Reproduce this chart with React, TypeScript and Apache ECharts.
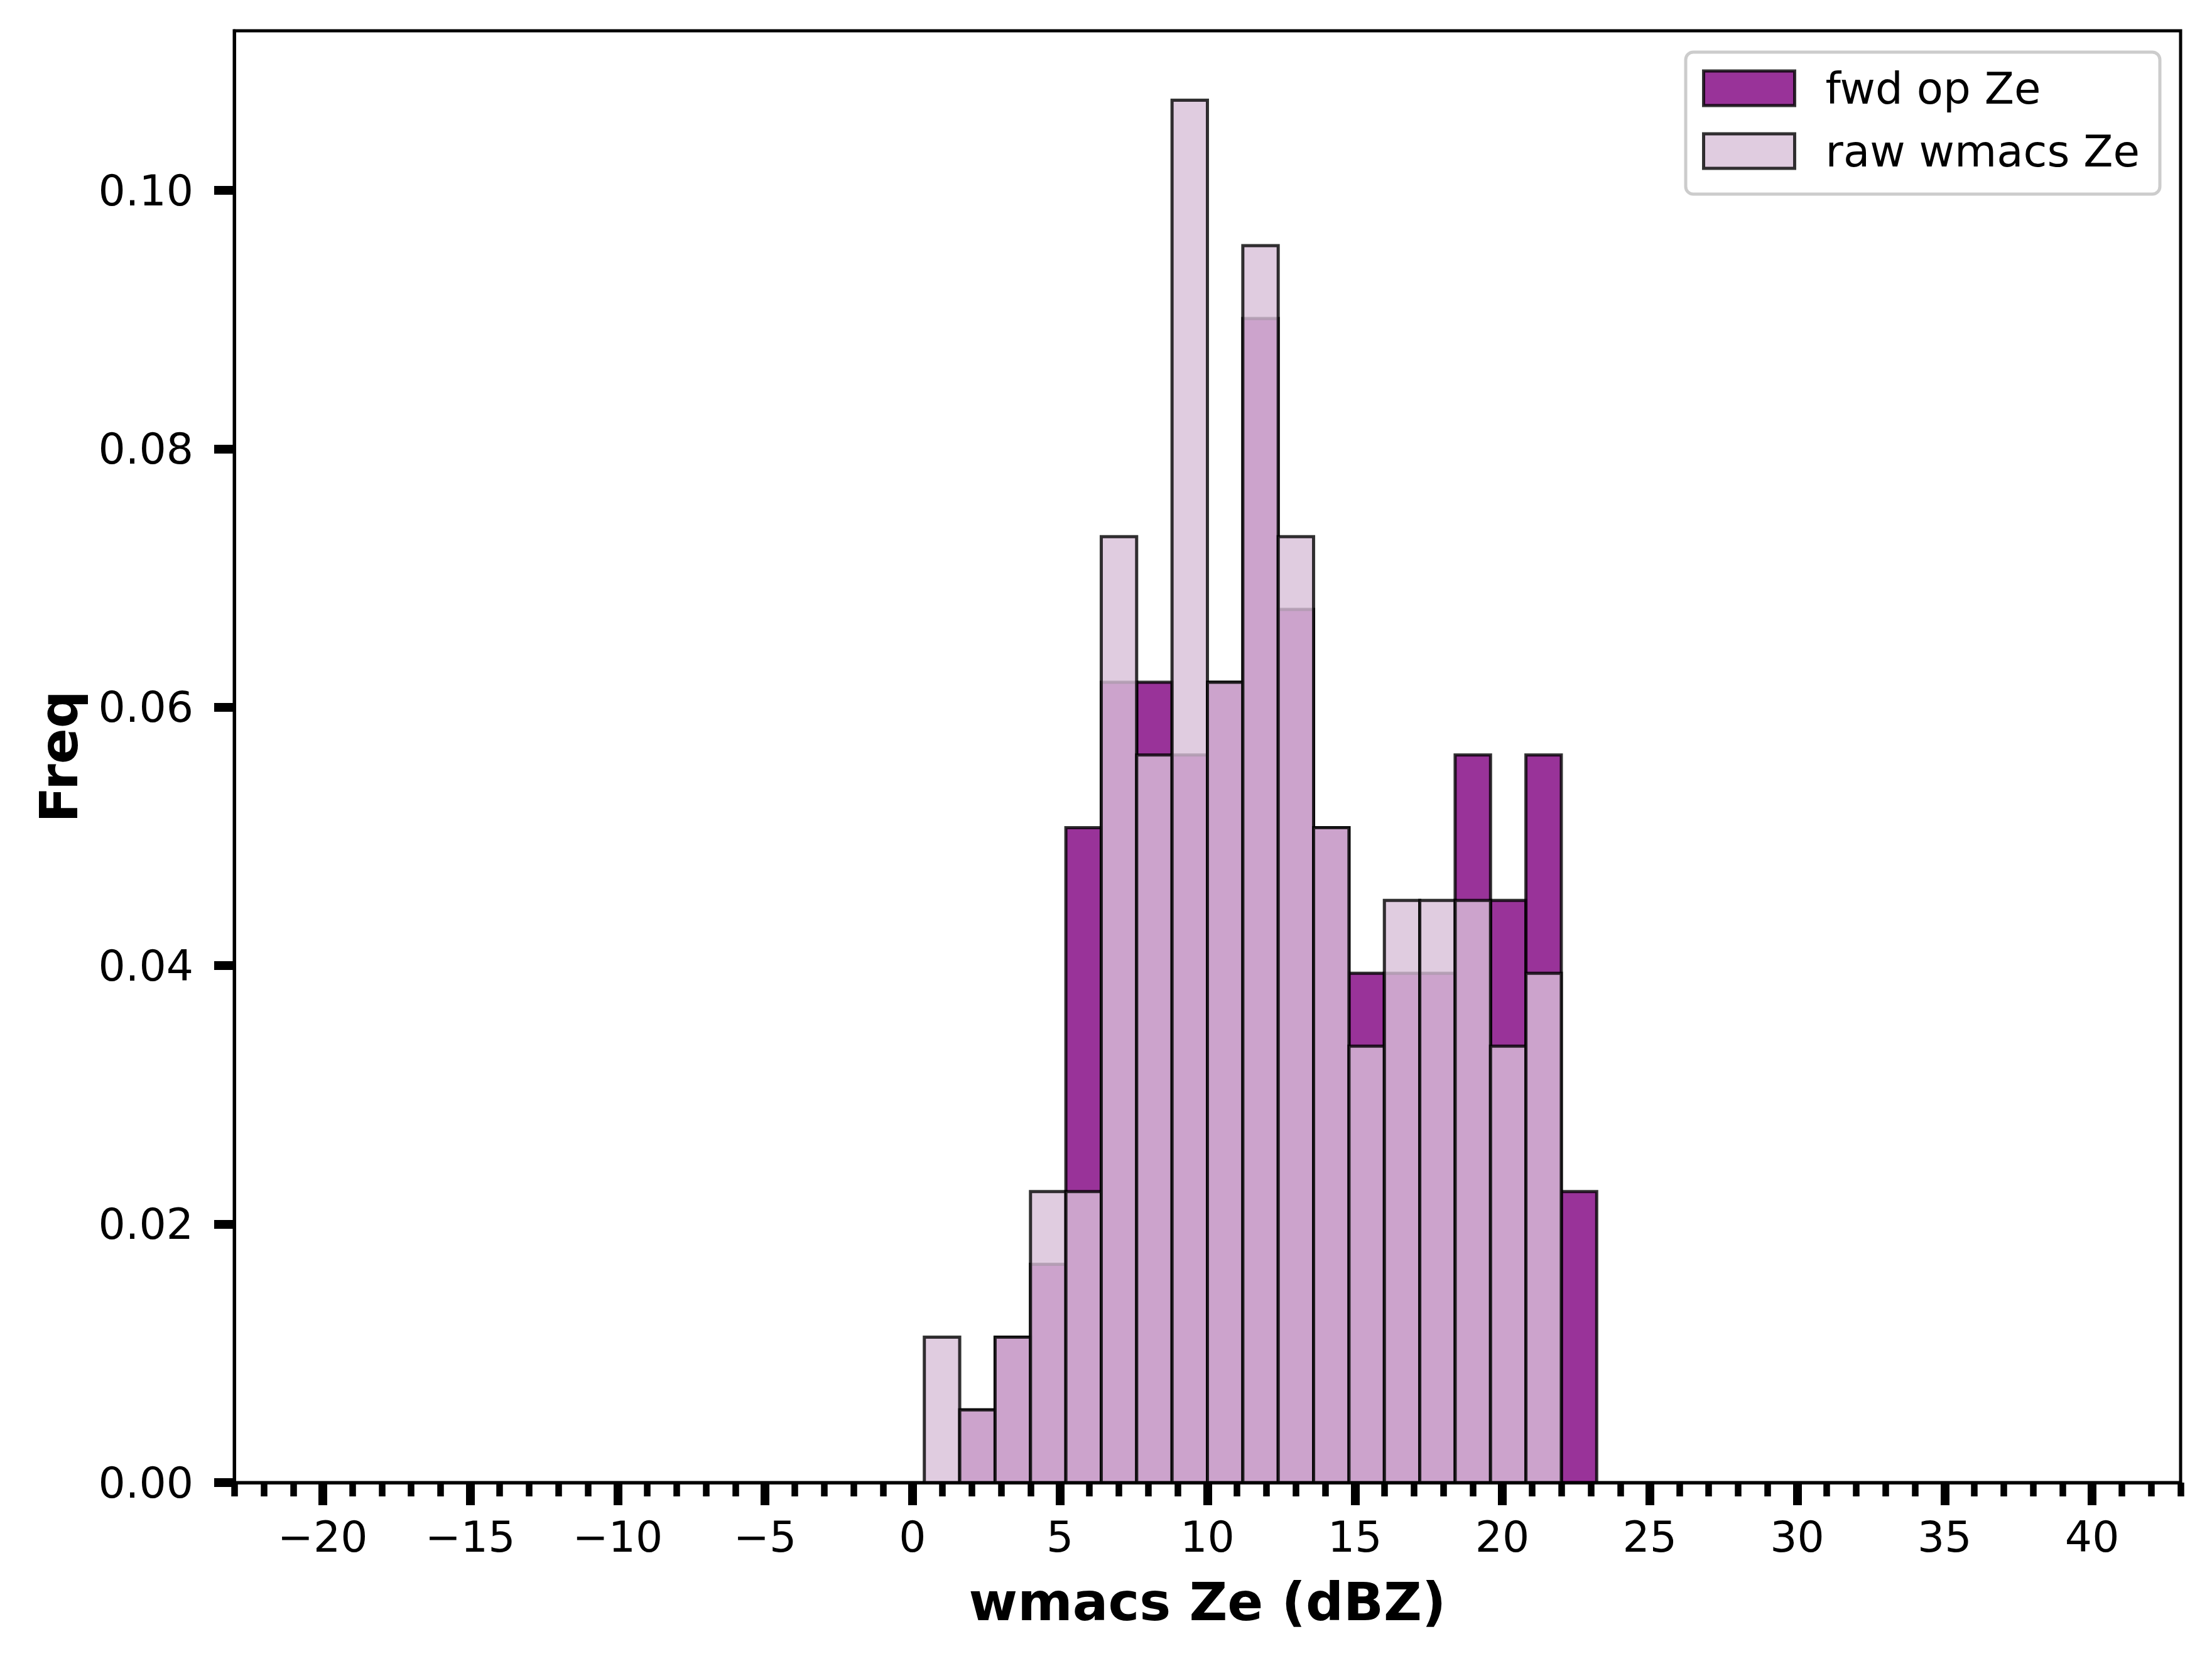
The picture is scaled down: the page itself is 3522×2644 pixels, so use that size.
import React, { useEffect, useRef } from "react";
import * as echarts from "echarts";

// Histogram bin edges (dBZ)
const binEdges = [0.4, 1.6, 2.8, 4.0, 5.2, 6.4, 7.6, 8.8, 10.0, 11.2, 12.4, 13.6, 14.8, 16.0, 17.2, 18.4, 19.6, 20.8, 22.0, 23.2];
// Frequency (density) values per bin
const fwdFreq = [0, 0.00563, 0.01126, 0.01689, 0.05068, 0.06194, 0.06194, 0.05631, 0.06194, 0.09009, 0.06757, 0.05068, 0.03941, 0.03941, 0.03941, 0.05631, 0.04505, 0.05631, 0.02252];
const rawFreq = [0.01126, 0.00563, 0.01126, 0.02252, 0.02252, 0.0732, 0.05631, 0.10698, 0.06194, 0.09572, 0.0732, 0.05068, 0.03378, 0.04505, 0.04505, 0.04505, 0.03378, 0.03941, 0];

const seriesNames = ["fwd op Ze", "raw wmacs Ze"];
const xMajorTicks = [-20, -15, -10, -5, 0, 5, 10, 15, 20, 25, 30, 35, 40];
const xMinorTicks = [-23, -22, -21, -20, -19, -18, -17, -16, -15, -14, -13, -12, -11, -10, -9, -8, -7, -6, -5, -4, -3, -2, -1, 0, 1, 2, 3, 4, 5, 6, 7, 8, 9, 10, 11, 12, 13, 14, 15, 16, 17, 18, 19, 20, 21, 22, 23, 24, 25, 26, 27, 28, 29, 30, 31, 32, 33, 34, 35, 36, 37, 38, 39, 40, 41, 42, 43];
const yTicks = [0, 0.02, 0.04, 0.06, 0.08, 0.1];
const xRange = [-23, 43];
const yRange = [0, 0.11235];

const FONT = "DejaVu Sans";
const FWD_FILL = "rgba(128,0,128,0.8)";
const RAW_FILL = "rgba(216,191,216,0.8)";
const EDGE = "rgba(0,0,0,0.8)";

function toBars(values: number[]) {
  const out: number[][] = [];
  values.forEach((v, i) => {
    if (v > 0) out.push([binEdges[i], binEdges[i + 1], v]);
  });
  return out;
}

function makeRender(fill: string) {
  return (params: any, api: any) => {
    const x0 = api.value(0);
    const x1 = api.value(1);
    const y = api.value(2);
    const p0 = api.coord([x0, y]);
    const p1 = api.coord([x1, 0]);
    return {
      type: "rect",
      shape: { x: p0[0], y: p0[1], width: p1[0] - p0[0], height: p1[1] - p0[1] },
      style: { fill, stroke: EDGE, lineWidth: 5 },
    };
  };
}

const minusFmt = (v: number) => (v < 0 ? "\u2212" + Math.abs(v) : String(v));

export default function App() {
  const ref = useRef<HTMLDivElement>(null);
  useEffect(() => {
    document.body.style.margin = "0";
    if (!ref.current) return;
    const chart = echarts.init(ref.current, undefined, { renderer: "svg" });
    chart.setOption({
      animation: false,
      backgroundColor: "#ffffff",
      grid: {
        left: 373,
        right: 50,
        top: 49,
        bottom: 284,
        show: true,
        borderColor: "#000",
        borderWidth: 5,
        backgroundColor: "transparent",
      },
      legend: {
        orient: "vertical",
        right: 83,
        top: 83,
        padding: [23, 32, 34, 26],
        itemWidth: 145,
        itemHeight: 55,
        itemGap: 31,
        backgroundColor: "rgba(255,255,255,0.8)",
        borderColor: "#cccccc",
        borderWidth: 5,
        borderRadius: 12,
        selectedMode: false,
        textStyle: {
          fontFamily: FONT,
          fontSize: 69,
          color: "#000",
          lineHeight: 55,
          padding: [0, 0, 0, 44],
        },
        data: [
          { name: seriesNames[0], icon: "rect", itemStyle: { color: FWD_FILL, borderColor: EDGE, borderWidth: 5 } },
          { name: seriesNames[1], icon: "rect", itemStyle: { color: RAW_FILL, borderColor: EDGE, borderWidth: 5 } },
        ],
      },
      xAxis: [
        {
          type: "value",
          min: xRange[0],
          max: xRange[1],
          z: 5,
          name: "wmacs Ze (dBZ)",
          nameLocation: "middle",
          nameGap: 148,
          nameTextStyle: { fontFamily: FONT, fontSize: 84, fontWeight: "bold", color: "#000", lineHeight: 84 },
          axisLine: { show: true, onZero: false, lineStyle: { color: "#000", width: 5 } },
          splitLine: { show: false },
          axisTick: {
            show: true,
            customValues: xMajorTicks,
            length: 36,
            lineStyle: { color: "#000", width: 14 },
          },
          axisLabel: {
            customValues: xMajorTicks,
            formatter: minusFmt,
            margin: 50,
            fontFamily: FONT,
            fontSize: 68,
            lineHeight: 72,
            color: "#000",
          },
        },
        {
          type: "value",
          min: xRange[0],
          max: xRange[1],
          position: "bottom",
          z: 5,
          axisLine: { show: false, onZero: false },
          splitLine: { show: false },
          axisLabel: { show: false },
          axisTick: {
            show: true,
            customValues: xMinorTicks,
            length: 22,
            lineStyle: { color: "#000", width: 10.5 },
          },
        },
      ],
      yAxis: {
        type: "value",
        min: yRange[0],
        max: yRange[1],
        z: 5,
        name: "Freq",
        nameLocation: "middle",
        nameGap: 237,
        nameTextStyle: { fontFamily: FONT, fontSize: 84, fontWeight: "bold", color: "#000", lineHeight: 84 },
        axisLine: { show: true, onZero: false, lineStyle: { color: "#000", width: 5 } },
        splitLine: { show: false },
        axisTick: {
          show: true,
          customValues: yTicks,
          length: 32,
          lineStyle: { color: "#000", width: 14 },
        },
        axisLabel: {
          customValues: yTicks,
          formatter: (v: number) => v.toFixed(2),
          margin: 65,
          fontFamily: FONT,
          fontSize: 68,
          color: "#000",
        },
      },
      series: [
        {
          name: seriesNames[0],
          type: "custom",
          xAxisIndex: 0,
          itemStyle: { color: FWD_FILL, borderColor: EDGE, borderWidth: 5 },
          encode: { x: [0, 1], y: 2 },
          renderItem: makeRender(FWD_FILL),
          data: toBars(fwdFreq),
        },
        {
          name: seriesNames[1],
          type: "custom",
          xAxisIndex: 0,
          itemStyle: { color: RAW_FILL, borderColor: EDGE, borderWidth: 5 },
          encode: { x: [0, 1], y: 2 },
          renderItem: makeRender(RAW_FILL),
          data: toBars(rawFreq),
        },
      ],
    });
    return () => chart.dispose();
  }, []);
  return <div ref={ref} style={{ width: 3522, height: 2644 }} />;
}
